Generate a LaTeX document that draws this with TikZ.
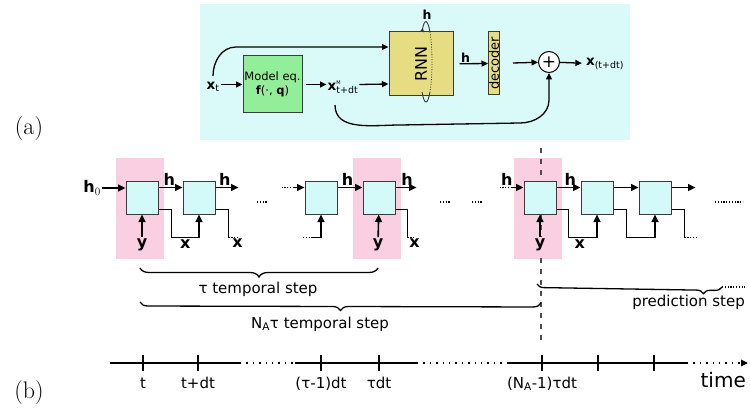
\documentclass[tikz,border=0pt]{standalone}
\usepackage{fontspec}
\usepackage{graphicx}
\usepackage{xcolor}
\usepackage{tikz}
\usetikzlibrary{positioning, arrows.meta, backgrounds, calc, decorations.pathreplacing}

\newfontfamily\dejavu{DejaVu Sans}
\newcommand{\fsz}[2]{\fontsize{#1}{#2}\selectfont}
\newcommand{\bx}{\textbf{x}}
\newcommand{\supsub}[2]{\makebox[0pt][l]{\raisebox{6.5pt}{\fsz{5}{6}#1}}\textsubscript{#2}}

\definecolor{panelcyan}{HTML}{DAFAFA}
\definecolor{cellcyan}{HTML}{D4F9F9}
\definecolor{bandpink}{HTML}{F9CFE1}
\definecolor{modelgreen}{HTML}{92EE98}
\definecolor{rnnyellow}{HTML}{E6DD83}
\definecolor{edgegray}{HTML}{3A3A3A}

\begin{document}
\begin{tikzpicture}[
    x=1pt, y=1pt,
    font=\dejavu,
    node distance=24pt,
    cell/.style={rectangle, draw=edgegray, fill=cellcyan, line width=1pt, minimum size=32pt, inner sep=0pt},
    band/.style={rectangle, fill=bandpink, minimum width=48pt, minimum height=101pt, inner sep=0pt},
    block/.style={rectangle, draw=edgegray, line width=1pt, inner sep=0pt, align=center},
    lbl/.style={font=\dejavu\bfseries\fsz{16}{19}, inner sep=1pt},
    hlbl/.style={font=\dejavu\bfseries\fsz{12.5}{15}, inner sep=1pt},
    xlbl/.style={font=\dejavu\fsz{13.5}{16}, inner sep=1pt},
    txtlbl/.style={font=\dejavu\fsz{15}{18}, inner sep=1pt},
    ticklbl/.style={font=\dejavu\fsz{15}{18}, anchor=base, inner sep=0pt},
    arr/.style={-{Triangle[length=7.5pt, width=7pt]}, line width=1.6pt},
    tarr/.style={-{Triangle[length=6.5pt, width=6pt]}, line width=1.3pt},
    rail/.style={line width=1.6pt},
    dottail/.style={line width=1.2pt, dash pattern=on 1.2pt off 1.6pt},
    dotaxis/.style={line width=1.2pt, dash pattern=on 1.4pt off 5pt},
    brc/.style={decorate, line width=1.3pt},
    tickmark/.style={line width=1.2pt},
    splitline/.style={draw=black!70, line width=1.4pt, dash pattern=on 5pt off 6pt},
]
\useasboundingbox (0,0) rectangle (750,-409);

% --- Panel (a): hybrid model ---
\node[block, fill=modelgreen, minimum width=59pt, minimum height=57pt, font=\dejavu\fsz{11.5}{13.5}] (model) at (272.5,-84.5) {Model eq.\\\textbf{f}(·, \textbf{q})};
\node[xlbl] (xt) at (213,-87) {\bx\textsubscript{t}};
\node[xlbl] (xm) at (343,-87) {\bx\supsub{M}{t+dt}};
\node[block, fill=rnnyellow, minimum size=64pt] (rnn) at (421,-64) {\rotatebox{90}{\fsz{16}{18}RNN}};
\node[block, fill=rnnyellow, minimum width=11pt, minimum height=63pt] (dec) at (494,-63.5) {\rotatebox{90}{\fsz{13}{15}decoder}};
\node[circle, draw=black, fill=white, line width=1pt, minimum size=21pt, inner sep=0pt, font=\dejavu\fsz{17}{19}] (plus) at (549,-62) {+};
\node[xlbl] (xout) at (605,-64) {\bx\textsubscript{(t+dt)}};
\node[hlbl] (hloop) at (427,-15) {h};
\coordinate (xmlow) at (335,-105);

\draw[tarr] (xt.east |- model) -- (model);
\draw[tarr, shorten <=3pt] (model) -- (model -| xm.west);
\draw[tarr] (xm.east |- model) -- ([yshift=-20pt]rnn.west);
\draw[tarr] ([yshift=5pt]xt.north) to[out=90, in=180] (236,-47) -- ([yshift=17pt]rnn.west);
\draw[tarr, shorten <=6pt] (rnn) -- node[hlbl, above, pos=0.35] (hdec) {h} (dec);
\draw[tarr, shorten <=13pt] (dec) -- (plus);
\draw[tarr, shorten >=3pt] (plus) -- (xout);
\draw[tarr] (xmlow) to[out=-90, in=180] (400,-125) -- (520,-123) to[out=0, in=-90] (549,-100) -- (plus.south);

% recurrent loop
\draw[line width=0.9pt, edgegray, {Triangle[reversed, length=4pt, width=4pt]}-] (426,-62) ++(131:6pt and 40pt) arc[start angle=131, end angle=49, x radius=6pt, y radius=40pt];
\draw[line width=0.8pt, edgegray, dash pattern=on 1pt off 1.5pt] (426,-62) ++(49:6pt and 40pt) arc[start angle=49, end angle=-49, x radius=6pt, y radius=40pt];
\draw[line width=0.9pt, edgegray] (426,-62) ++(-49:6pt and 40pt) arc[start angle=-49, end angle=-131, x radius=6pt, y radius=40pt];

\node[font=\normalfont\fsz{24}{28}, inner sep=0pt] (lblA) at (29,-129) {(a)};

% --- Panel (b): unrolled chain ---
\node[cell] (c1) at (142,-198) {};
\node[cell, right=of c1] (c2) {};
\node[cell] (c3) at (321,-198) {};
\node[cell, right=25pt of c3] (c4) {};
\node[cell] (c5) at (540,-198) {};
\node[cell, right=of c5] (c6) {};
\node[cell, right=25pt of c6] (c7) {};

\node[lbl, anchor=east] (h0) at (102,-188) {h\textsubscript{\normalfont 0}};
\node[lbl] (y1) at (142,-244.5) {y};
\node[lbl] (y4) at (378,-244.5) {y};
\node[lbl, fill=bandpink] (y5) at (540,-244.5) {y};

% h path
\draw[arr] (h0.east) -- (h0.east -| c1.west);
\draw[arr] ([yshift=-6pt]c1.north east) -- node[lbl, above, pos=0.45] (h1) {h} ([yshift=-6pt]c2.north west);
\draw[arr] ([yshift=-6pt]c2.north east) -- node[lbl, above, pos=0.4] (h2) {h} ++(23pt,0);
\draw[dottail] ([xshift=-23pt, yshift=-6pt]c3.north west) -- ++(12pt,0) coordinate (h3in);
\draw[arr] (h3in) -- (h3in -| c3.west);
\draw[arr] ([yshift=-6pt]c3.north east) -- node[lbl, above, pos=0.4] (h3) {h} ([yshift=-6pt]c4.north west);
\draw[arr] ([yshift=-6pt]c4.north east) -- node[lbl, above, pos=0.55] (h4) {h} ++(21pt,0);
\draw[dottail] ([xshift=-24pt, yshift=-6pt]c5.north west) -- node[lbl, above, pos=0.6] (h5in) {h} ++(12pt,0) coordinate (h5a);
\draw[arr] (h5a) -- (h5a -| c5.west);
\draw[arr] ([yshift=-6pt]c5.north east) -- node[lbl, above, pos=0.58] (h5) {h} ([yshift=-6pt]c6.north west);
\draw[arr] ([yshift=-6pt]c6.north east) -- ([yshift=-6pt]c7.north west);
\draw[arr] ([yshift=-6pt]c7.north east) -- ++(24pt,0);

% y inputs
\draw[arr] (y1) -- (c1);
\draw[arr] (y4) -- (c4);
\draw[arr] (y5) -- (c5);

% x path
\draw[arr] ([yshift=5pt]c1.south east) -| ([xshift=13pt, yshift=-23pt]c1.south east) -| node[lbl, below, pos=0.25] (x1) {x} (c2.south);
\draw[rail] ([yshift=5pt]c2.south east) -| ([xshift=13pt, yshift=-23pt]c2.south east) coordinate (k2);
\draw[dottail] (k2) -- ++(9pt,0) node[lbl, below] (x2) {x};
\draw[dottail] ([xshift=-18pt, yshift=-23pt]c3.south) -- ++(9pt,0) coordinate (x3in);
\draw[arr] (x3in) -| (c3.south);
\draw[rail] ([yshift=5pt]c4.south east) -| ([xshift=12pt, yshift=-23pt]c4.south east) coordinate (k4);
\draw[dottail] (k4) -- ++(7pt,0) node[lbl, below] (x4) {x};
\draw[arr] ([yshift=5pt]c5.south east) -| ([xshift=12pt, yshift=-23pt]c5.south east) -| node[lbl, below, pos=0.2] (x5) {x} (c6.south);
\draw[arr] ([yshift=5pt]c6.south east) -| ([xshift=13pt, yshift=-23pt]c6.south east) -| (c7.south);
\draw[rail] ([yshift=5pt]c7.south east) -| ([xshift=13pt, yshift=-23pt]c7.south east) coordinate (k7);
\draw[dottail] (k7) -- ++(13pt,0);

% gaps in the chain
\draw[dottail] (257,-202) -- (267,-202);
\draw[dottail] (440,-202) -- (450,-202);
\draw[dottail] (472,-202) -- (482,-202);
\draw[dottail] (715,-202) -- (743,-202);

% --- Braces ---
\draw[brc, decoration={brace, mirror, amplitude=9pt}] (140,-268) -- (378,-268);
\node[txtlbl] (taulbl) at (258,-289) {τ temporal step};
\draw[brc, decoration={brace, mirror, amplitude=8pt}] (140,-302) -- (541,-303);
\node[txtlbl] (natlbl) at (320,-324) {N\textsubscript{A}τ temporal step};
\draw[brc, decoration={brace, mirror, amplitude=7pt, aspect=0.9}] (537,-284) -- (722,-287);
\draw[dottail] (722,-287) -- (745,-287);
\node[txtlbl, anchor=east] (predlbl) at (746,-302) {prediction step};

% --- Time axis ---
\draw[tickmark] (110,-363) -- (240,-363);
\draw[dotaxis] (240,-363) -- (295,-363);
\draw[tickmark] (295,-363) -- (417,-363);
\draw[dotaxis] (417,-363) -- (507,-363);
\draw[tickmark] (507,-363) -- (687,-363);
\draw[dotaxis, -{Triangle[length=7pt, width=6.5pt]}] (687,-363) -- (748,-363);
\foreach \tx/\tl in {143/t, 198/t+dt, 321/{(τ-1)dt}, 379/τdt, 542/{(N\textsubscript{A}-1)τdt}} {
  \draw[tickmark] (\tx,-355) -- (\tx,-371);
  \node[ticklbl] (tk\tx) at (\tx,-388) {\tl};
}
\foreach \tx in {598, 654}
  \draw[tickmark] (\tx,-355) -- (\tx,-371);
\node[font=\dejavu\fsz{20}{24}, anchor=base east, inner sep=0pt] (timelbl) at (746,-387) {time};
\node[font=\normalfont\fsz{24}{28}, inner sep=0pt] (lblB) at (29,-393) {(b)};

% --- Backgrounds ---
\begin{scope}[on background layer]
  \node[fill=panelcyan, minimum width=430pt, minimum height=136pt, inner sep=0pt] (panelA) at (415,-72) {};
  \node[band] (p1) at ([xshift=-2pt, yshift=-10.5pt]c1.center) {};
  \node[band] (p2) at ([xshift=-2pt, yshift=-10.5pt]c4.center) {};
  \node[band] (p3) at ([xshift=-2pt, yshift=-10.5pt]c5.center) {};
  \draw[splitline] (541,-148) -- (541,-345);
\end{scope}
\end{tikzpicture}
\end{document}
